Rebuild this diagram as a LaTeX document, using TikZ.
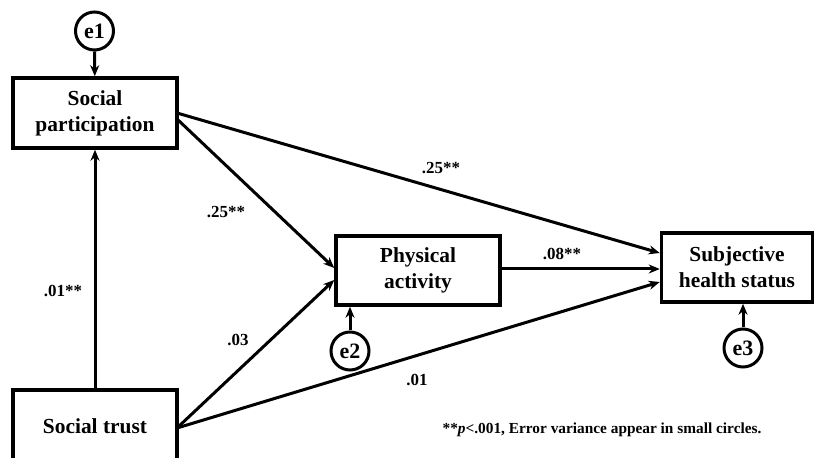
\documentclass[tikz,border=0pt]{standalone}
\usepackage{fontspec}
\setmainfont{Liberation Serif}
\usetikzlibrary{arrows.meta}
\begin{document}
\begin{tikzpicture}[x=1bp,y=-1bp,
  box/.style={draw,line width=3.5bp,inner sep=0pt,font=\bfseries\fontsize{21.5}{26}\selectfont,align=center},
  err/.style={draw,circle,line width=3bp,minimum size=38bp,inner sep=0pt,font=\bfseries\fontsize{22}{24}\selectfont},
  path/.style={line width=3bp,-{Stealth[length=11bp,width=9bp,inset=3.5bp]}},
  lab/.style={font=\bfseries\fontsize{17}{19}\selectfont}]
\useasboundingbox (0,0) rectangle (814,458);
\node[box,minimum width=164bp,minimum height=70bp] (sp) at (95,113) {Social\\participation};
\node[box,minimum width=164bp,minimum height=72bp] (st) at (95,426) {Social trust};
\node[box,minimum width=164bp,minimum height=69bp] (pa) at (418,270.5) {Physical\\activity};
\node[box,minimum width=151bp,minimum height=69bp] (sh) at (737,267.5) {Subjective\\health status};
\node[err] (e1) at (94.5,31) {e1};
\node[err] (e2) at (350,351) {e2};
\node[err] (e3) at (743,348) {e3};
\coordinate (sp1) at (177,113);
\coordinate (sp2) at (177,119);
\coordinate (st1) at (177,428);
\draw[path] (e1) -- (sp);
\draw[path] (e2.north) -- (e2.north |- pa.south);
\draw[path] (e3.north) -- (e3.north |- sh.south);
\draw[path] (st) -- (sp);
\draw[path] (sp1) -- (sh.west |- 0,253);
\draw[path] (sp2) -- (pa.west |- 0,268);
\draw[path] (st1) -- (pa.west |- 0,280);
\draw[path] (st1) -- (sh.west |- 0,282);
\draw[path] (pa.east |- 0,269) -- (sh.west |- 0,269);
\node[lab] (l1) at (441,168) {.25**};
\node[lab] (l2) at (226,212) {.25**};
\node[lab] (l3) at (63,291) {.01**};
\node[lab] (l4) at (238,340) {.03};
\node[lab] (l5) at (417,380) {.01};
\node[lab] (l6) at (562,254) {.08**};
\node[font=\bfseries\fontsize{15.4}{17}\selectfont] (fn) at (602,430) {**\textit{p}<.001, Error variance appear in small circles.};
\end{tikzpicture}
\end{document}
